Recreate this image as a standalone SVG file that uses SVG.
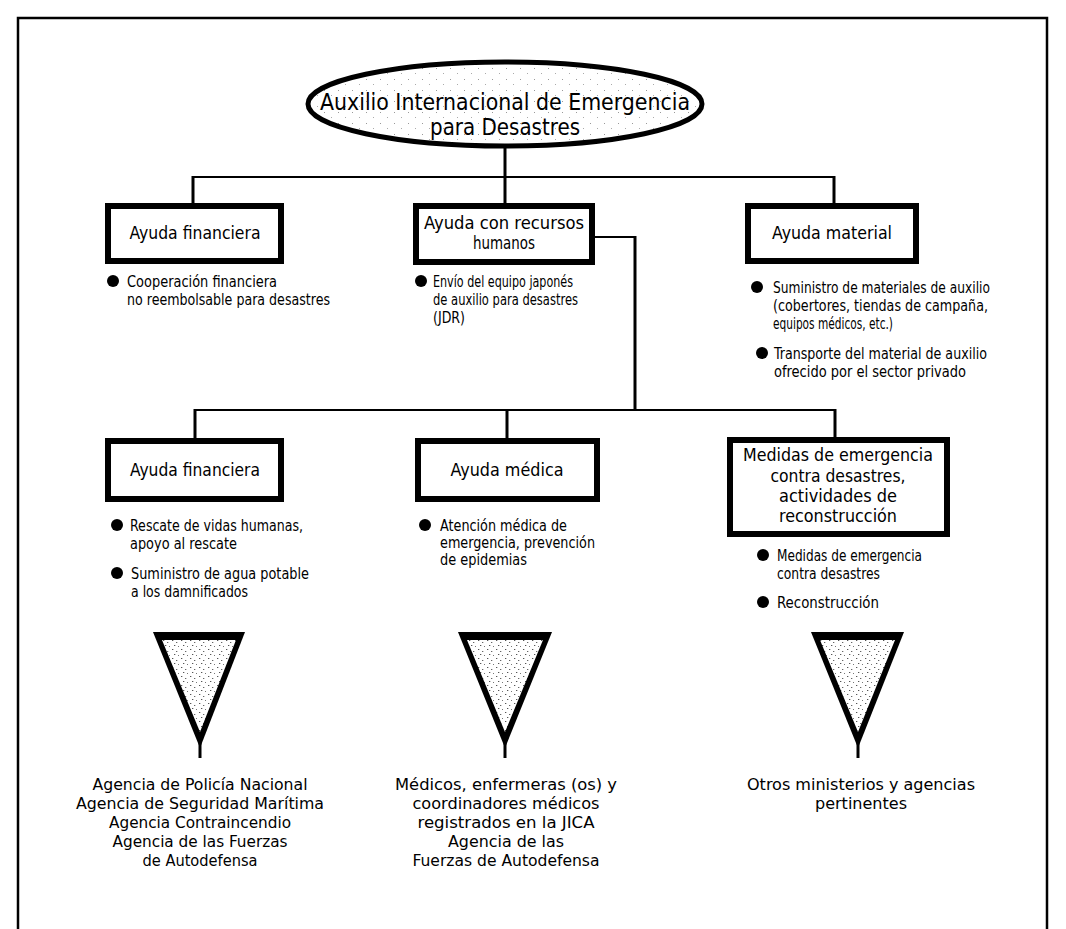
<svg xmlns="http://www.w3.org/2000/svg" width="1066" height="929" viewBox="0 0 1066 929">
<style>
.t{font-family:"Liberation Sans Narrow","DejaVu Sans Condensed","Liberation Sans",sans-serif;fill:#000}
.box{fill:#fff;stroke:#000;stroke-width:6}
.bt{font-size:18px;text-anchor:middle}
.bl{font-size:15px}
.bot{font-size:16px;text-anchor:middle}
.c{stroke:#000;fill:none}
.dot{fill:#000}
</style>
<defs>
<pattern id="stip" width="9" height="9" patternUnits="userSpaceOnUse">
<rect width="9" height="9" fill="#fff"/>
<rect x="1" y="1" width="1.3" height="1" fill="#555"/>
<rect x="5" y="3" width="1.3" height="1" fill="#666"/>
<rect x="3" y="6" width="1.3" height="1" fill="#555"/>
<rect x="7" y="7" width="1" height="1" fill="#777"/>
</pattern>
<pattern id="light" width="14" height="11" patternUnits="userSpaceOnUse">
<rect width="14" height="11" fill="#fff"/>
<rect x="2" y="2" width="1" height="1" fill="#999"/>
<rect x="9" y="7" width="1" height="1" fill="#aaa"/>
</pattern>
</defs>
<rect width="1066" height="929" fill="#fff"/>
<path d="M18,929 V18 H1047 V929" fill="none" stroke="#000" stroke-width="2.5"/>

<g id="connectors">
<path class="c" stroke-width="3" d="M505,146 V177"/>
<path class="c" stroke-width="2" d="M193,177 H834"/>
<path class="c" stroke-width="3" d="M193,176 V203 M505,176 V203 M834,176 V203"/>
<path class="c" stroke-width="2" d="M595,237 H635"/>
<path class="c" stroke-width="3" d="M635,236 V410"/>
<path class="c" stroke-width="2" d="M195,410 H836"/>
<path class="c" stroke-width="3" d="M195,409 V438 M507,409 V438 M835,409 V437"/>
</g>

<g id="root">
<ellipse cx="505" cy="104" rx="197" ry="42" fill="url(#light)" stroke="#000" stroke-width="5"/>
<text class="t" x="505" y="110" font-size="23" text-anchor="middle" textLength="370" lengthAdjust="spacingAndGlyphs">Auxilio Internacional de Emergencia</text>
<text class="t" x="505" y="135" font-size="23" text-anchor="middle" textLength="150" lengthAdjust="spacingAndGlyphs">para Desastres</text>
</g>

<g id="n-financiera1">
<rect class="box" x="108" y="206" width="173" height="55"/>
<text class="t bt" x="195" y="239" textLength="131" lengthAdjust="spacingAndGlyphs">Ayuda financiera</text>
<circle class="dot" cx="113" cy="281" r="6"/>
<text class="t bl" x="127" y="287" textLength="150" lengthAdjust="spacingAndGlyphs">Cooperación financiera</text>
<text class="t bl" x="127" y="305" textLength="203" lengthAdjust="spacingAndGlyphs">no reembolsable para desastres</text>
</g>

<g id="n-humanos">
<rect class="box" x="416" y="206" width="176" height="56"/>
<text class="t bt" x="504" y="229" textLength="160" lengthAdjust="spacingAndGlyphs">Ayuda con recursos</text>
<text class="t bt" x="504" y="249" textLength="62" lengthAdjust="spacingAndGlyphs">humanos</text>
<circle class="dot" cx="421" cy="281" r="6"/>
<text class="t bl" x="433" y="287" textLength="140" lengthAdjust="spacingAndGlyphs">Envío del equipo japonés</text>
<text class="t bl" x="433" y="305" textLength="145" lengthAdjust="spacingAndGlyphs">de auxilio para desastres</text>
<text class="t bl" x="433" y="323" textLength="32" lengthAdjust="spacingAndGlyphs">(JDR)</text>
</g>

<g id="n-material">
<rect class="box" x="748" y="206" width="168" height="55"/>
<text class="t bt" x="832" y="239" textLength="120" lengthAdjust="spacingAndGlyphs">Ayuda material</text>
<circle class="dot" cx="757" cy="287" r="6"/>
<text class="t bl" x="773" y="293" textLength="217" lengthAdjust="spacingAndGlyphs">Suministro de materiales de auxilio</text>
<text class="t bl" x="773" y="311" textLength="215" lengthAdjust="spacingAndGlyphs">(cobertores, tiendas de campaña,</text>
<text class="t bl" x="773" y="329" textLength="120" lengthAdjust="spacingAndGlyphs">equipos médicos, etc.)</text>
<circle class="dot" cx="762" cy="353" r="6"/>
<text class="t bl" x="774" y="359" textLength="213" lengthAdjust="spacingAndGlyphs">Transporte del material de auxilio</text>
<text class="t bl" x="774" y="377" textLength="192" lengthAdjust="spacingAndGlyphs">ofrecido por el sector privado</text>
</g>

<g id="n-financiera2">
<rect class="box" x="108" y="441" width="173" height="58"/>
<text class="t bt" x="195" y="476" textLength="130" lengthAdjust="spacingAndGlyphs">Ayuda financiera</text>
<circle class="dot" cx="117" cy="525" r="6"/>
<text class="t bl" x="130" y="531" textLength="173" lengthAdjust="spacingAndGlyphs">Rescate de vidas humanas,</text>
<text class="t bl" x="130" y="549" textLength="107" lengthAdjust="spacingAndGlyphs">apoyo al rescate</text>
<circle class="dot" cx="117" cy="573" r="6"/>
<text class="t bl" x="131" y="579" textLength="178" lengthAdjust="spacingAndGlyphs">Suministro de agua potable</text>
<text class="t bl" x="131" y="597" textLength="117" lengthAdjust="spacingAndGlyphs">a los damnificados</text>
</g>

<g id="n-medica">
<rect class="box" x="418" y="441" width="179" height="58"/>
<text class="t bt" x="507" y="476" textLength="113" lengthAdjust="spacingAndGlyphs">Ayuda médica</text>
<circle class="dot" cx="425" cy="525" r="6"/>
<text class="t bl" x="440" y="531" textLength="127" lengthAdjust="spacingAndGlyphs">Atención médica de</text>
<text class="t bl" x="440" y="548" textLength="155" lengthAdjust="spacingAndGlyphs">emergencia, prevención</text>
<text class="t bl" x="440" y="565" textLength="87" lengthAdjust="spacingAndGlyphs">de epidemias</text>
</g>

<g id="n-reconstruccion">
<rect class="box" x="730" y="440" width="217" height="94"/>
<text class="t bt" x="838" y="461" textLength="190" lengthAdjust="spacingAndGlyphs">Medidas de emergencia</text>
<text class="t bt" x="838" y="482" textLength="135" lengthAdjust="spacingAndGlyphs">contra desastres,</text>
<text class="t bt" x="838" y="502" textLength="118" lengthAdjust="spacingAndGlyphs">actividades de</text>
<text class="t bt" x="838" y="522" textLength="118" lengthAdjust="spacingAndGlyphs">reconstrucción</text>
<circle class="dot" cx="763" cy="555" r="6"/>
<text class="t bl" x="777" y="561" textLength="145" lengthAdjust="spacingAndGlyphs">Medidas de emergencia</text>
<text class="t bl" x="777" y="579" textLength="103" lengthAdjust="spacingAndGlyphs">contra desastres</text>
<circle class="dot" cx="763" cy="602" r="6"/>
<text class="t bl" x="777" y="608" textLength="102" lengthAdjust="spacingAndGlyphs">Reconstrucción</text>
</g>

<g id="n-agencias1">
<polygon points="153,632 245,632 200,748" fill="#000"/>
<polygon points="162,640 236,640 200,732" fill="url(#stip)"/>
<path class="c" stroke-width="3" d="M200,740 V758"/>
<text class="t bot" x="200" y="790" textLength="215" lengthAdjust="spacingAndGlyphs">Agencia de Policía Nacional</text>
<text class="t bot" x="200" y="809" textLength="248" lengthAdjust="spacingAndGlyphs">Agencia de Seguridad Marítima</text>
<text class="t bot" x="200" y="828" textLength="182" lengthAdjust="spacingAndGlyphs">Agencia Contraincendio</text>
<text class="t bot" x="200" y="847" textLength="175" lengthAdjust="spacingAndGlyphs">Agencia de las Fuerzas</text>
<text class="t bot" x="200" y="866" textLength="115" lengthAdjust="spacingAndGlyphs">de Autodefensa</text>
</g>

<g id="n-agencias2">
<polygon points="458,632 552,632 505,748" fill="#000"/>
<polygon points="467,640 543,640 505,732" fill="url(#stip)"/>
<path class="c" stroke-width="3" d="M505,740 V758"/>
<text class="t bot" x="506" y="790" textLength="222" lengthAdjust="spacingAndGlyphs">Médicos, enfermeras (os) y</text>
<text class="t bot" x="506" y="809" textLength="187" lengthAdjust="spacingAndGlyphs">coordinadores médicos</text>
<text class="t bot" x="506" y="828" textLength="177" lengthAdjust="spacingAndGlyphs">registrados en la JICA</text>
<text class="t bot" x="506" y="847" textLength="116" lengthAdjust="spacingAndGlyphs">Agencia de las</text>
<text class="t bot" x="506" y="866" textLength="187" lengthAdjust="spacingAndGlyphs">Fuerzas de Autodefensa</text>
</g>

<g id="n-agencias3">
<polygon points="811,632 904,632 858,748" fill="#000"/>
<polygon points="820,640 895,640 858,732" fill="url(#stip)"/>
<path class="c" stroke-width="3" d="M858,740 V758"/>
<text class="t bot" x="861" y="790" textLength="228" lengthAdjust="spacingAndGlyphs">Otros ministerios y agencias</text>
<text class="t bot" x="861" y="809" textLength="92" lengthAdjust="spacingAndGlyphs">pertinentes</text>
</g>
</svg>
